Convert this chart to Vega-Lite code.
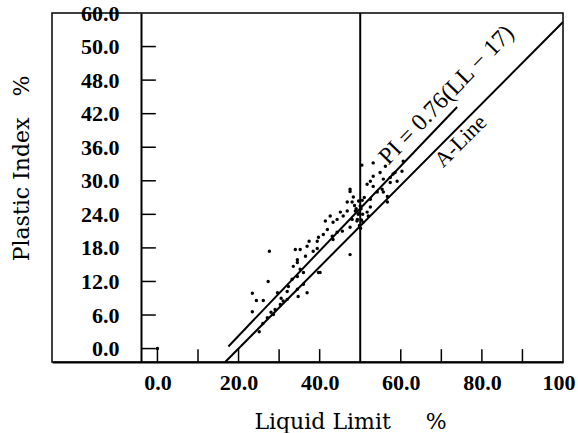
{
  "$schema": "https://vega.github.io/schema/vega-lite/v6.json",
  "width": 511,
  "height": 349,
  "autosize": {"type": "none"},
  "padding": {"left": 52, "top": 13, "right": 15, "bottom": 71},
  "background": "white",
  "config": {
    "view": {"stroke": "black", "strokeWidth": 1.5},
    "axis": {"domainColor": "black", "tickColor": "black", "labelColor": "black", "titleColor": "black", "grid": false, "labelOverlap": false, "labelSeparation": 0}
  },
  "resolve": {"axis": {"x": "independent", "y": "independent"}},
  "datasets": {
    "pts": [
      {"LL": 0, "PI": 0},
      {"LL": 23.4, "PI": 9.9}, {"LL": 24.4, "PI": 8.6}, {"LL": 26.1, "PI": 8.6}, {"LL": 23.4, "PI": 6.6},
      {"LL": 27.3, "PI": 12.0}, {"LL": 27.6, "PI": 17.4}, {"LL": 25.1, "PI": 3.0}, {"LL": 27.1, "PI": 5.5},
      {"LL": 28.6, "PI": 6.1}, {"LL": 29.6, "PI": 10.0}, {"LL": 30.3, "PI": 7.9}, {"LL": 32.0, "PI": 8.8},
      {"LL": 32.0, "PI": 10.2}, {"LL": 34.5, "PI": 10.6}, {"LL": 32.3, "PI": 11.1}, {"LL": 36.0, "PI": 11.5},
      {"LL": 36.9, "PI": 10.0}, {"LL": 34.7, "PI": 9.3}, {"LL": 33.2, "PI": 12.4}, {"LL": 34.5, "PI": 12.9},
      {"LL": 36.0, "PI": 13.6}, {"LL": 33.5, "PI": 14.7}, {"LL": 34.5, "PI": 15.9}, {"LL": 35.2, "PI": 14.2},
      {"LL": 34.0, "PI": 17.7}, {"LL": 35.2, "PI": 17.7}, {"LL": 36.9, "PI": 18.3}, {"LL": 36.5, "PI": 16.5},
      {"LL": 34.5, "PI": 15.4}, {"LL": 38.4, "PI": 17.4}, {"LL": 39.4, "PI": 17.9}, {"LL": 39.4, "PI": 19.2},
      {"LL": 37.4, "PI": 19.2}, {"LL": 39.7, "PI": 19.9}, {"LL": 40.9, "PI": 20.4}, {"LL": 41.9, "PI": 21.3},
      {"LL": 43.3, "PI": 22.6}, {"LL": 42.6, "PI": 23.7}, {"LL": 41.4, "PI": 22.8}, {"LL": 40.1, "PI": 13.6},
      {"LL": 39.7, "PI": 13.6}, {"LL": 43.3, "PI": 19.5}, {"LL": 44.3, "PI": 20.8}, {"LL": 45.6, "PI": 21.0},
      {"LL": 47.5, "PI": 21.7}, {"LL": 48.0, "PI": 23.1}, {"LL": 47.5, "PI": 16.8}, {"LL": 45.8, "PI": 23.7},
      {"LL": 46.8, "PI": 24.6}, {"LL": 47.5, "PI": 28.5}, {"LL": 48.0, "PI": 26.2}, {"LL": 45.1, "PI": 24.4},
      {"LL": 47.5, "PI": 28.1}, {"LL": 48.3, "PI": 27.1}, {"LL": 49.0, "PI": 25.0}, {"LL": 49.5, "PI": 24.0},
      {"LL": 50.0, "PI": 25.5}, {"LL": 50.3, "PI": 23.0}, {"LL": 50.5, "PI": 26.5}, {"LL": 49.8, "PI": 22.0},
      {"LL": 51.7, "PI": 29.4}, {"LL": 52.5, "PI": 29.9}, {"LL": 53.2, "PI": 29.0}, {"LL": 54.2, "PI": 28.0},
      {"LL": 54.9, "PI": 31.5}, {"LL": 56.2, "PI": 32.6}, {"LL": 58.1, "PI": 31.2}, {"LL": 60.3, "PI": 31.7},
      {"LL": 59.1, "PI": 29.9}, {"LL": 56.7, "PI": 27.2}, {"LL": 51.7, "PI": 24.4}, {"LL": 52.5, "PI": 25.3},
      {"LL": 46.8, "PI": 26.2}, {"LL": 44.3, "PI": 23.1}, {"LL": 43.1, "PI": 20.1}, {"LL": 48.8, "PI": 24.6},
      {"LL": 49.3, "PI": 23.1}, {"LL": 52.0, "PI": 23.7}, {"LL": 50.7, "PI": 22.6}, {"LL": 55.7, "PI": 28.0},
      {"LL": 55.7, "PI": 30.3}, {"LL": 57.4, "PI": 29.7}, {"LL": 55.4, "PI": 28.5}, {"LL": 60.6, "PI": 33.5},
      {"LL": 52.5, "PI": 26.7}, {"LL": 51.0, "PI": 27.0}, {"LL": 56.7, "PI": 26.2}, {"LL": 53.2, "PI": 30.8},
      {"LL": 57.4, "PI": 30.6}, {"LL": 58.6, "PI": 31.5}, {"LL": 30.5, "PI": 9.0}, {"LL": 29.0, "PI": 7.0},
      {"LL": 31.0, "PI": 8.5}, {"LL": 26.0, "PI": 4.5}, {"LL": 28.0, "PI": 6.5}, {"LL": 50.4, "PI": 32.8},
      {"LL": 53.2, "PI": 33.2}, {"LL": 49.8, "PI": 24.2}, {"LL": 50.1, "PI": 21.5}, {"LL": 49.6, "PI": 26.4},
      {"LL": 50.2, "PI": 25.0}, {"LL": 49.2, "PI": 22.8}, {"LL": 50.6, "PI": 24.0}, {"LL": 48.6, "PI": 25.6}
    ],
    "lines": [
      {"series": "PI", "LL": 17.5, "PI": 0.38},
      {"series": "PI", "LL": 73.9, "PI": 43.2},
      {"series": "A", "LL": 16.7, "PI": -2.4},
      {"series": "A", "LL": 100, "PI": 58.4},
      {"series": "LL50", "LL": 50, "PI": -2.4},
      {"series": "LL50", "LL": 50, "PI": 60}
    ],
    "xticks": [{"LL": 0}, {"LL": 10}, {"LL": 20}, {"LL": 30}, {"LL": 40}, {"LL": 60}, {"LL": 70}, {"LL": 80}, {"LL": 90}],
    "yticks": [{"PI": 0}, {"PI": 6}, {"PI": 12}, {"PI": 18}, {"PI": 24}, {"PI": 30}, {"PI": 36}, {"PI": 42}, {"PI": 48}, {"PI": 54}],
    "lab1": [{"LL": 71.3, "PI": 45.3, "label": "PI = 0.76(LL − 17)"}],
    "lab2": [{"LL": 74.7, "PI": 37.1, "label": "A-Line"}]
  },
  "layer": [
    {
      "data": {"name": "pts"},
      "mark": {"type": "point", "filled": true, "color": "black", "size": 12, "opacity": 1},
      "encoding": {
        "x": {
          "field": "LL", "type": "quantitative",
          "scale": {"domain": [-26, 100], "nice": false, "zero": false},
          "axis": {
            "orient": "bottom",
            "values": [0, 20, 40, 60, 80, 100],
            "labelExpr": "datum.value == 100 ? '100' : format(datum.value, '.1f')",
            "ticks": false, "domainWidth": 2,
            "labelPadding": 10, "labelFont": "Liberation Serif", "labelFontWeight": "bold", "labelFontSize": 22,
            "labelOverlap": false, "labelFlush": true, "labelFlushOffset": 12,
            "title": "Liquid Limit\u00a0\u00a0\u00a0\u00a0\u00a0%",
            "titleFont": "DejaVu Serif", "titleFontWeight": "normal", "titleFontSize": 22,
            "titleX": 298, "titleY": 66, "titleAlign": "center", "titleBaseline": "alphabetic"
          }
        },
        "y": {
          "field": "PI", "type": "quantitative",
          "scale": {"domain": [-2.4, 60], "nice": false, "zero": false},
          "axis": {
            "orient": "left",
            "values": [0, 6, 12, 18, 24, 30, 36, 42, 48, 54, 60],
            "labelExpr": "datum.value == 54 ? '50.0' : format(datum.value, '.1f')",
            "offset": -89,
            "ticks": false, "domainWidth": 2,
            "labelPadding": 22, "labelFont": "Liberation Serif", "labelFontWeight": "bold", "labelFontSize": 22,
            "labelOverlap": false, "labelFlush": false,
            "title": "Plastic Index\u00a0\u00a0\u00a0%",
            "titleFont": "DejaVu Serif", "titleFontWeight": "normal", "titleFontSize": 22,
            "titleAngle": 270, "titleX": -113, "titleY": 155, "titleAlign": "center", "titleBaseline": "alphabetic"
          }
        }
      }
    },
    {
      "data": {"name": "lines"},
      "mark": {"type": "line", "color": "black", "strokeWidth": 2},
      "encoding": {
        "x": {"field": "LL", "type": "quantitative", "scale": {"domain": [-26, 100], "nice": false, "zero": false}, "axis": null},
        "y": {"field": "PI", "type": "quantitative", "scale": {"domain": [-2.4, 60], "nice": false, "zero": false}, "axis": null},
        "detail": {"field": "series"}
      }
    },
    {
      "data": {"name": "xticks"},
      "mark": {"type": "rule", "color": "black", "strokeWidth": 1.5},
      "encoding": {
        "x": {"field": "LL", "type": "quantitative", "axis": null},
        "y": {"datum": -2.4, "type": "quantitative", "axis": null},
        "y2": {"datum": -0.1}
      }
    },
    {
      "data": {"name": "yticks"},
      "mark": {"type": "rule", "color": "black", "strokeWidth": 1.5},
      "encoding": {
        "y": {"field": "PI", "type": "quantitative", "axis": null},
        "x": {"datum": -4.06, "type": "quantitative", "axis": null},
        "x2": {"datum": -0.4}
      }
    },
    {
      "data": {"name": "lab1"},
      "mark": {"type": "text", "font": "Liberation Serif", "fontSize": 24, "align": "center", "baseline": "middle", "angle": 314, "color": "black"},
      "encoding": {
        "x": {"field": "LL", "type": "quantitative", "axis": null},
        "y": {"field": "PI", "type": "quantitative", "axis": null},
        "text": {"field": "label"}
      }
    },
    {
      "data": {"name": "lab2"},
      "mark": {"type": "text", "font": "Liberation Serif", "fontSize": 22, "align": "center", "baseline": "middle", "angle": 315, "color": "black"},
      "encoding": {
        "x": {"field": "LL", "type": "quantitative", "axis": null},
        "y": {"field": "PI", "type": "quantitative", "axis": null},
        "text": {"field": "label"}
      }
    }
  ]
}
